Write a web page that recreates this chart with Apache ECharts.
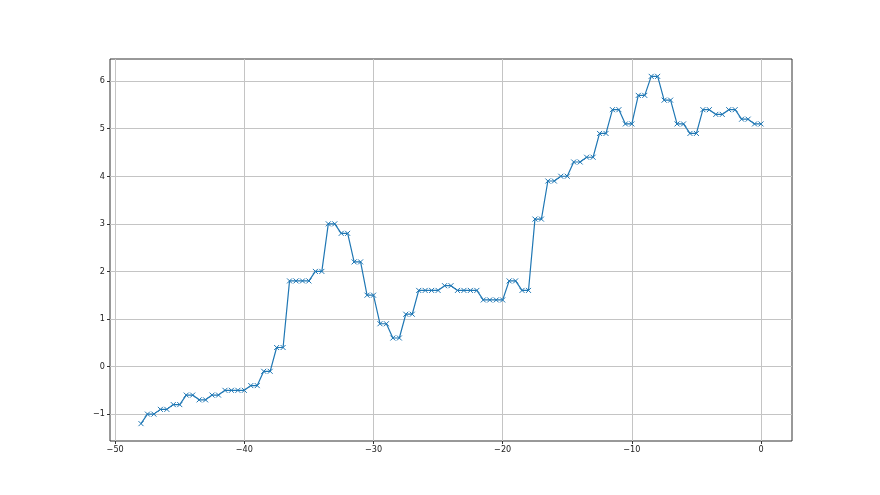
<!DOCTYPE html>
<html>
<head>
<meta charset="utf-8">
<script src="https://cdn.jsdelivr.net/npm/echarts@6/dist/echarts.min.js"></script>
<style>html,body{margin:0;padding:0;background:#fff}#c{width:880px;height:495px}</style>
</head>
<body>
<div id="c"></div>
<script>
// x positions: -48 to 0 in steps of 0.5
const xStart = -48;
const xStep = 0.5;
// y values, one per point
const yValues = [
  -1.2,
  -1.0, -1.0, -0.9, -0.9, -0.8, -0.8, -0.6, -0.6, -0.7, -0.7,
  -0.6, -0.6, -0.5, -0.5, -0.5, -0.5, -0.4, -0.4, -0.1, -0.1,
  0.4, 0.4, 1.8, 1.8, 1.8, 1.8, 2.0, 2.0, 3.0, 3.0,
  2.8, 2.8, 2.2, 2.2, 1.5, 1.5, 0.9, 0.9, 0.6, 0.6,
  1.1, 1.1, 1.6, 1.6, 1.6, 1.6, 1.7, 1.7, 1.6, 1.6,
  1.6, 1.6, 1.4, 1.4, 1.4, 1.4, 1.8, 1.8, 1.6, 1.6,
  3.1, 3.1, 3.9, 3.9, 4.0, 4.0, 4.3, 4.3, 4.4, 4.4,
  4.9, 4.9, 5.4, 5.4, 5.1, 5.1, 5.7, 5.7, 6.1, 6.1,
  5.6, 5.6, 5.1, 5.1, 4.9, 4.9, 5.4, 5.4, 5.3, 5.3,
  5.4, 5.4, 5.2, 5.2, 5.1, 5.1
];
const xTicks = [-50, -40, -30, -20, -10, 0];
const yTicks = [-1, 0, 1, 2, 3, 4, 5, 6];

const points = yValues.map((v, i) => [xStart + i * xStep, v]);

const labelFont = {
  color: '#222',
  fontSize: 9,
  fontFamily: 'DejaVu Sans Condensed, Liberation Sans Narrow, DejaVu Sans, sans-serif'
};

const chart = echarts.init(document.getElementById('c'), null, {renderer: 'canvas'});
chart.setOption({
  animation: false,
  backgroundColor: '#fff',
  grid: {
    left: 110, right: 88, top: 59, bottom: 54,
    show: true, borderColor: '#333', borderWidth: 1, backgroundColor: 'transparent'
  },
  xAxis: {
    type: 'value',
    min: -50.4, max: 2.4,
    axisLine: {show: false, onZero: false},
    axisTick: {show: true, inside: false, length: 3, lineStyle: {color: '#333'}, customValues: xTicks},
    axisLabel: Object.assign({margin: 4, customValues: xTicks, formatter: v => String(v).replace('-', '\u2212')}, labelFont),
    splitLine: {show: true, lineStyle: {color: '#c4c4c4', width: 1}}
  },
  yAxis: {
    type: 'value',
    min: -1.565, max: 6.465,
    axisLine: {show: false, onZero: false},
    axisTick: {show: true, inside: false, length: 3, lineStyle: {color: '#333'}, customValues: yTicks},
    axisLabel: Object.assign({margin: 5, customValues: yTicks, formatter: v => String(v).replace('-', '\u2212')}, labelFont),
    splitLine: {show: true, lineStyle: {color: '#c4c4c4', width: 1}}
  },
  series: [{
    type: 'line',
    data: points,
    symbol: 'path://M0,0L10,10M10,0L0,10',
    symbolSize: 5,
    showAllSymbol: true,
    lineStyle: {color: '#1f77b4', width: 1.2},
    itemStyle: {color: 'rgba(0,0,0,0)', borderColor: '#1f77b4', borderWidth: 1},
    emphasis: {disabled: true}
  }]
});
</script>
</body>
</html>
